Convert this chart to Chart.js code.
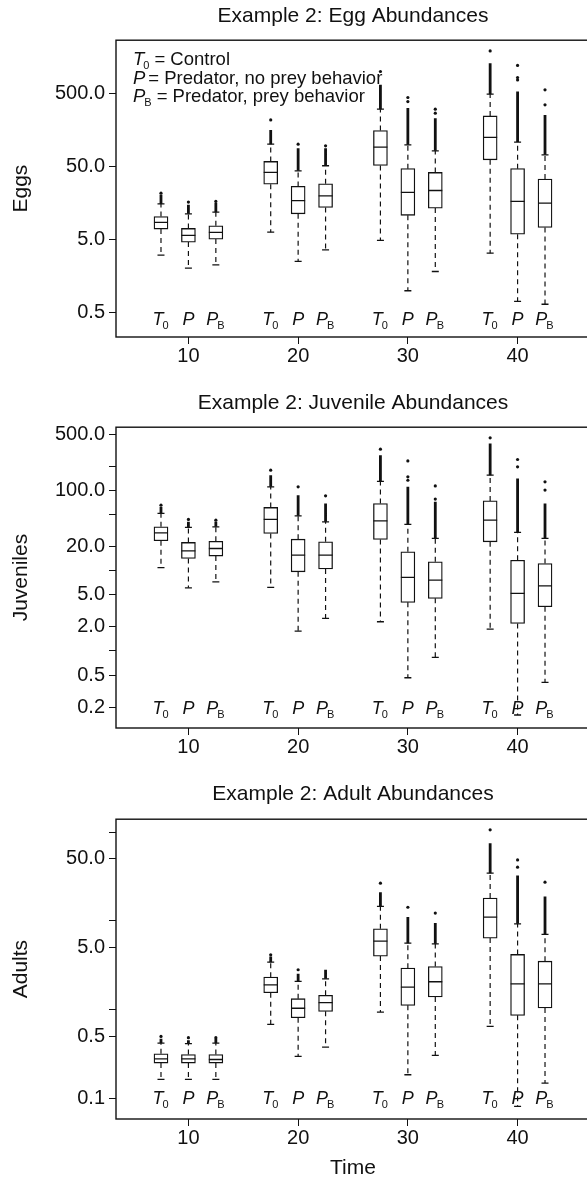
<!DOCTYPE html>
<html><head><meta charset="utf-8">
<script src="https://cdn.jsdelivr.net/npm/chart.js@4.4.1/dist/chart.umd.min.js"></script>
<style>
html,body{margin:0;padding:0;background:#fff;overflow:hidden;width:587px;height:1182px;position:relative;}
canvas{position:absolute;left:0;}
</style></head><body>
<canvas id="egg" width="600" height="380" style="top:0px"></canvas>
<canvas id="juv" width="600" height="390" style="top:380px"></canvas>
<canvas id="adult" width="600" height="412" style="top:770px"></canvas>
<script>
const FONT = '"Liberation Sans", Arial, Helvetica, sans-serif';

// ---- categories ----
const boxPositions = [7.5, 10, 12.5, 17.5, 20, 22.5, 27.5, 30, 32.5, 37.5, 40, 42.5];
const treatmentLabels = ['T0', 'P', 'PB'];
const timeTicks = [10, 20, 30, 40];
const legendLines = [['T', '0', '= Control'], ['P', '', '= Predator, no prey behavior'], ['P', 'B', '= Predator, prey behavior']];

// ---- Eggs ----
const eggQ1 = [6.86, 4.55, 5.0, 28.3, 11.1, 13.6, 51.1, 10.6, 13.3, 61, 5.85, 7.23];
const eggMedian = [8.47, 5.62, 6.18, 41, 16.8, 19.6, 91, 21.8, 23.2, 124, 16.4, 15.6];
const eggQ3 = [10.2, 7.0, 7.6, 58, 26.4, 28.6, 154, 46.2, 41, 244, 46.2, 33.2];
const eggLow = [3.02, 2.0, 2.22, 6.23, 2.47, 3.57, 4.8, 0.98, 1.8, 3.21, 0.7, 0.64];
const eggHigh = [15.2, 11.1, 11.7, 100, 43.1, 50.6, 302, 98, 81, 484, 107, 71.4];
const eggDenseTop = [20.2, 14.75, 15.6, 157, 88.2, 88, 650, 312, 227, 1288, 527, 252];
const eggOutliers = [[21.3], [16.1], [16.4], [215], [100], [94.8], [991], [384, 436], [266, 302], [1897], [760, 820, 1200], [346, 555]];
const eggYTicks = [0.5, 5, 50, 500];
const eggYTickLabels = ['0.5', '5.0', '50.0', '500.0'];

// ---- Juveniles ----
const juvQ1 = [23.6, 14.2, 15.2, 29.1, 9.68, 10.5, 24.5, 4.03, 4.52, 22.9, 2.2, 3.55];
const juvMedian = [29.6, 17.7, 18.9, 43.5, 15.6, 15.6, 41.8, 8.25, 7.63, 42.6, 5.21, 6.48];
const juvQ3 = [35.2, 22.5, 23.2, 61.4, 24.7, 22.9, 68.8, 17.2, 12.9, 74.1, 13.5, 12.3];
const juvLow = [10.9, 6.12, 7.27, 6.19, 1.77, 2.54, 2.31, 0.463, 0.832, 1.87, 0.159, 0.406];
const juvHigh = [51.7, 34.6, 35.2, 110.8, 48.2, 40.6, 130, 37.7, 25.2, 155, 30, 25.2];
const juvDenseTop = [62.4, 40.6, 40.6, 155, 87.3, 68.8, 275, 110.8, 72.1, 385, 141, 68.8];
const juvOutliers = [[65.5], [43.5], [42.6], [179], [110.8], [85.6], [327], [134, 148, 233], [78, 114], [452], [197, 243], [101, 128]];
const juvYTicks = [0.2, 0.5, 1, 2, 5, 10, 20, 50, 100, 200, 500];
const juvYTickLabels = ['0.2', '0.5', '', '2.0', '5.0', '', '20.0', '', '100.0', '', '500.0'];

// ---- Adults ----
const adultQ1 = [0.248, 0.248, 0.248, 1.54, 0.804, 0.95, 3.99, 1.11, 1.38, 6.37, 0.856, 1.04];
const adultMedian = [0.277, 0.277, 0.272, 1.89, 1.03, 1.19, 5.89, 1.78, 2.05, 11, 1.94, 1.94];
const adultQ3 = [0.316, 0.31, 0.31, 2.31, 1.32, 1.44, 8.1, 2.92, 3.05, 18, 4.17, 3.5];
const adultLow = [0.1625, 0.1625, 0.1625, 0.677, 0.295, 0.376, 0.932, 0.183, 0.303, 0.643, 0.0806, 0.1476];
const adultHigh = [0.417, 0.41, 0.417, 3.41, 2.07, 2.21, 14.5, 5.59, 5.49, 34.4, 9.23, 7.0];
const adultDenseTop = [0.466, 0.45, 0.466, 3.96, 2.52, 2.8, 21, 11, 9.4, 75, 32.4, 18.8];
const adultOutliers = [[0.496], [0.48], [0.48], [4.13], [2.8], [], [26.5], [14.2], [12.2], [106], [40.2, 48.6], [27.2]];
const adultYTicks = [0.1, 0.5, 1, 5, 10, 50, 100];
const adultYTickLabels = ['0.1', '0.5', '', '5.0', '', '50.0', ''];

const annotate = {
  id: 'annotate',
  afterDatasetsDraw(chart, args, opts) {
    const ctx = chart.ctx, xs = chart.scales.x, ys = chart.scales.y, a = chart.chartArea;
    ctx.save();
    ctx.fillStyle = '#111';
    ctx.textAlign = 'left';
    ctx.textBaseline = 'alphabetic';
    const yb = ys.getPixelForValue(opts.labelValue) + 6;
    boxPositions.forEach((p, i) => {
      const lab = treatmentLabels[i % 3];
      const main = lab[0], sub = lab.slice(1);
      ctx.font = 'italic 18px ' + FONT;
      const wm = ctx.measureText(main).width;
      ctx.font = '11px ' + FONT;
      const ws = sub ? ctx.measureText(sub).width : 0;
      const x0 = xs.getPixelForValue(p) - (wm + ws) / 2;
      ctx.font = 'italic 18px ' + FONT;
      ctx.fillText(main, x0, yb);
      if (sub) { ctx.font = '11px ' + FONT; ctx.fillText(sub, x0 + wm - 1, yb + 4); }
    });
    if (opts.legend) {
      const bases = [24.5, 44, 62];
      legendLines.forEach((ln, k) => {
        const x0 = a.left + 17, y = a.top + bases[k];
        ctx.font = 'italic 18.5px ' + FONT;
        const wm = ctx.measureText(ln[0]).width;
        ctx.fillText(ln[0], x0, y);
        let ws = 0;
        if (ln[1]) { ctx.font = '11px ' + FONT; ws = ctx.measureText(ln[1]).width + 1; ctx.fillText(ln[1], x0 + wm - 1, y + 4); }
        ctx.font = '18.5px ' + FONT;
        ctx.fillText(ln[2], x0 + wm + ws + 3, y);
      });
    }
    ctx.strokeStyle = '#111';
    ctx.lineWidth = 1.4;
    ctx.strokeRect(a.left, a.top, a.right - a.left, a.bottom - a.top);
    ctx.restore();
  }
};

function buildPanel(id, p) {
  const whisk = [], dense = [], dots = [], caps = [], boxes = [], meds = [];
  boxPositions.forEach((x, i) => {
    whisk.push({x, y: p.q3[i]}, {x, y: p.high[i]}, {x, y: null});
    whisk.push({x, y: p.q1[i]}, {x, y: p.low[i]}, {x, y: null});
    dense.push({x, y: p.high[i]}, {x, y: p.dense[i]}, {x, y: null});
    p.out[i].forEach(v => dots.push({x, y: v}));
    caps.push({x, y: p.high[i]}, {x, y: p.low[i]});
    boxes.push({x, y: [p.q1[i], p.q3[i]]});
    meds.push({x, y: p.med[i]});
  });
  const tickFont = {family: FONT, size: 20};
  new Chart(document.getElementById(id), {
    type: 'scatter',
    data: {datasets: [
      {type: 'line', data: whisk, borderColor: '#111', borderWidth: 1.2, borderDash: [5, 4], pointRadius: 0, spanGaps: false, order: 6},
      {type: 'line', data: dense, borderColor: '#111', borderWidth: 2.8, borderCapStyle: 'butt', pointRadius: 0, spanGaps: false, order: 5},
      {type: 'scatter', data: dots, pointRadius: 1.6, backgroundColor: '#111', borderColor: '#111', borderWidth: 0, order: 4},
      {type: 'scatter', data: caps, pointStyle: 'line', pointRadius: 3.5, borderColor: '#111', borderWidth: 1.3, order: 3},
      {type: 'bar', data: boxes, backgroundColor: '#fff', borderColor: '#111', borderWidth: 1.3, borderSkipped: false, barThickness: 14, order: 2},
      {type: 'scatter', data: meds, pointStyle: 'line', pointRadius: 7, borderColor: '#111', borderWidth: 1.3, order: 1}
    ]},
    options: {
      responsive: false, animation: false, events: [],
      layout: {padding: {left: 0, right: 10, top: 0, bottom: 0}},
      plugins: {
        legend: {display: false}, tooltip: {enabled: false},
        title: {display: true, text: p.title, fullSize: false, color: '#111',
          font: {family: FONT, size: 21, weight: 'normal', lineHeight: 1.2},
          padding: {top: p.titleTop, bottom: p.titleBottom}},
        annotate: {labelValue: p.labelValue, legend: p.legend}
      },
      scales: {
        x: {type: 'linear', min: 3.4, max: 46.6, bounds: 'data', offset: false,
          afterBuildTicks: s => { s.ticks = timeTicks.map(v => ({value: v})); },
          afterFit: s => { s.height = p.xHeight; },
          ticks: {autoSkip: false, maxRotation: 0, color: '#111', font: tickFont, padding: 0, callback: v => String(v)},
          grid: {display: true, offset: false, drawOnChartArea: false, drawTicks: true, tickLength: 7, color: '#111', lineWidth: 1},
          border: {display: false},
          title: {display: !!p.xTitle, text: p.xTitle || '', color: '#111', font: {family: FONT, size: 21, lineHeight: 1.2}, padding: {top: 0, bottom: 1}}
        },
        y: {type: 'logarithmic', min: p.yMin, max: p.yMax, bounds: 'data',
          afterBuildTicks: s => { s.ticks = p.yTicks.map(v => ({value: v})); },
          afterFit: s => { s.width = 116; },
          ticks: {autoSkip: false, color: '#111', font: tickFont, padding: 4,
            callback: (v) => { const k = p.yTicks.indexOf(v); return k >= 0 ? p.yLabels[k] : ''; }},
          grid: {display: true, offset: false, drawOnChartArea: false, drawTicks: true, tickLength: 7, color: '#111', lineWidth: 1},
          border: {display: false},
          title: {display: true, text: p.yTitle, color: '#111', font: {family: FONT, size: 21, lineHeight: 1.2}, padding: {top: 9, bottom: 0}}
        }
      }
    },
    plugins: [annotate]
  });
}

buildPanel('egg', {title: 'Example 2: Egg Abundances', titleTop: 4, titleBottom: 11, xHeight: 43,
  q1: eggQ1, med: eggMedian, q3: eggQ3, low: eggLow, high: eggHigh, dense: eggDenseTop, out: eggOutliers,
  yTicks: eggYTicks, yLabels: eggYTickLabels, yMin: 0.2277, yMax: 2661, yTitle: 'Eggs', labelValue: 0.4, legend: true});
buildPanel('juv', {title: 'Example 2: Juvenile Abundances', titleTop: 11, titleBottom: 11, xHeight: 42,
  q1: juvQ1, med: juvMedian, q3: juvQ3, low: juvLow, high: juvHigh, dense: juvDenseTop, out: juvOutliers,
  yTicks: juvYTicks, yLabels: juvYTickLabels, yMin: 0.1095, yMax: 614, yTitle: 'Juveniles', labelValue: 0.195, legend: false});
buildPanel('adult', {title: 'Example 2: Adult Abundances', titleTop: 12, titleBottom: 12, xHeight: 63,
  q1: adultQ1, med: adultMedian, q3: adultQ3, low: adultLow, high: adultHigh, dense: adultDenseTop, out: adultOutliers,
  yTicks: adultYTicks, yLabels: adultYTickLabels, yMin: 0.058, yMax: 139.8, yTitle: 'Adults', xTitle: 'Time', labelValue: 0.1, legend: false});
</script>
</body></html>
